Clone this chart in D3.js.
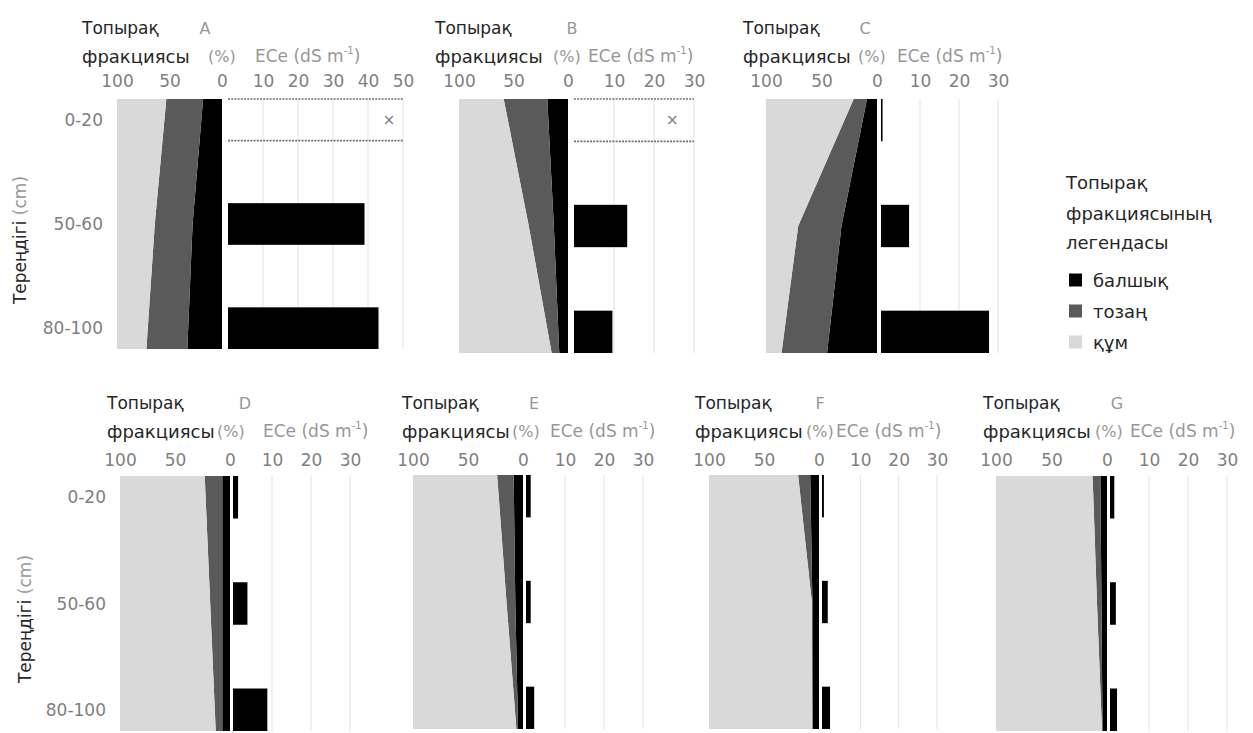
<!DOCTYPE html>
<html>
<head>
<meta charset="utf-8">
<script src="https://cdn.jsdelivr.net/npm/d3@7"></script>
<style>
body { margin: 0; background: #fff; }
text { font-family: "DejaVu Sans", sans-serif; }
</style>
</head>
<body>
<div id="chart"></div>
<script>
"use strict"

// data
var depths = ["0-20", "50-60", "80-100"];
var panelNames = ["A", "B", "C", "D", "E", "F", "G"];
var clay = [[18, 28, 33], [19, 13, 8], [9, 32, 45], [7, 7, 7], [8.5, 7, 4.5], [8, 6, 6], [6, 5, 4]];
var silt = [[35, 36, 39], [40, 23, 7], [12, 39, 41], [16, 11, 6], [15, 8, 1.5], [11, 0.5, 0], [7, 4, 0.5]];
var ece = [[null, 39, 43], [null, 13.3, 9.6], [0.4, 7.2, 27.7], [1.3, 3.7, 8.8], [1.2, 1.2, 2.1], [0.5, 1.5, 2.1], [1.1, 1.5, 1.8]];
var eceMax = [50, 30, 30, 30, 30, 30, 30];
var fracTicks = [100, 50, 0];
var fractionKeys = ["clay", "silt", "sand"];
var fractionLabels = ["балшық", "тозаң", "құм"];

// where each panel sits
var layout = [
    {fx: [117, 222], ex: [228, 403], y: [99, 349], row: 0, title: 82, letter: 205, pct: 208, eceX: 255, na: 0.92},
    {fx: [459, 568], ex: [574, 694], y: [99, 353], row: 0, title: 435, letter: 572, pct: 553, eceX: 588, na: 0.82},
    {fx: [766, 877], ex: [881, 998], y: [99, 353], row: 0, title: 743, letter: 865, pct: 858, eceX: 897},
    {fx: [120, 230], ex: [233, 350], y: [476, 731], row: 1, title: 107, letter: 245, pct: 217, eceX: 263},
    {fx: [413, 523], ex: [526, 643], y: [475, 729], row: 1, title: 402, letter: 534, pct: 512, eceX: 550},
    {fx: [709, 819], ex: [822, 937], y: [475, 729], row: 1, title: 695, letter: 820, pct: 806, eceX: 836},
    {fx: [996, 1107], ex: [1110, 1227], y: [476, 731], row: 1, title: 983, letter: 1117, pct: 1095, eceX: 1130}
];
var rowText = [{l1: 28, l2: 56, ticks: 81, ytitle: [20, 240]}, {l1: 403, l2: 431, ticks: 460, ytitle: [25, 619]}];

var colors = {clay: "#000000", silt: "#5a5a5a", sand: "#d9d9d9"};
var dark = "#262626", grey = "#7f7f7f", light = "#979797";

var svg = d3.select("#chart")
    .append("svg")
    .attr("width", 1253)
    .attr("height", 733);

panelNames.forEach(function(name, p) {
    var L = layout[p];
    var g = svg.append("g");

    var xf = d3.scaleLinear().domain([100, 0]).range(L.fx);
    var xe = d3.scaleLinear().domain([0, eceMax[p]]).range(L.ex);
    var yp = d3.scalePoint().domain(depths).range(L.y);
    var yb = d3.scaleBand().domain(depths).range(L.y).paddingInner(0.6).paddingOuter(0);
    var eTicks = xe.ticks(eceMax[p] / 10).filter(function(t) { return t > 0; });

    // gridlines of the ECe part
    g.selectAll(".grid")
        .data(eTicks)
        .enter().append("line")
        .attr("x1", function(t) { return xe(t); })
        .attr("x2", function(t) { return xe(t); })
        .attr("y1", L.y[0])
        .attr("y2", L.y[1])
        .attr("stroke", "#e3e3e3")
        .attr("stroke-width", 1);

    // stacked soil fractions
    var rows = depths.map(function(d, i) {
        return {depth: d, clay: clay[p][i], silt: silt[p][i], sand: 100 - clay[p][i] - silt[p][i]};
    });
    var stacked = d3.stack().keys(fractionKeys)(rows);
    var area = d3.area()
        .y(function(d) { return yp(d.data.depth); })
        .x0(function(d) { return xf(d[0]); })
        .x1(function(d) { return xf(d[1]); });
    g.selectAll(".frac")
        .data(stacked)
        .enter().append("path")
        .attr("d", area)
        .attr("fill", function(s) { return colors[s.key]; });

    // ECe bars
    var barData = depths.map(function(d, i) { return {depth: d, value: ece[p][i]}; });
    g.selectAll(".bar")
        .data(barData.filter(function(d) { return d.value !== null; }))
        .enter().append("rect")
        .attr("x", xe(0))
        .attr("y", function(d) { return yb(d.depth); })
        .attr("width", function(d) { return xe(d.value) - xe(0); })
        .attr("height", yb.bandwidth())
        .attr("fill", "#000");

    // missing values: dotted box with a cross
    barData.filter(function(d) { return d.value === null; }).forEach(function(d) {
        [yb(d.depth), yb(d.depth) + yb.bandwidth()].forEach(function(yy) {
            g.append("line")
                .attr("x1", xe(0)).attr("x2", xe(eceMax[p]))
                .attr("y1", yy).attr("y2", yy)
                .attr("stroke", "#6f6f6f")
                .attr("stroke-width", 1.6)
                .attr("stroke-dasharray", "2,1.2");
        });
        g.append("text")
            .attr("x", xe(eceMax[p] * L.na))
            .attr("y", yb(d.depth) + yb.bandwidth() / 2)
            .attr("dominant-baseline", "central")
            .attr("text-anchor", "middle")
            .attr("font-size", 15)
            .attr("fill", grey)
            .text("×");
    });

    // tick labels (the 0 is shared by both parts)
    var T = rowText[L.row];
    var fAxis = g.append("g")
        .attr("transform", "translate(0," + T.ticks + ")")
        .call(d3.axisTop(xf).tickValues(fracTicks).tickSize(0).tickPadding(0));
    var eAxis = g.append("g")
        .attr("transform", "translate(0," + T.ticks + ")")
        .call(d3.axisTop(xe).tickValues(eTicks).tickSize(0).tickPadding(0));
    [fAxis, eAxis].forEach(function(a) {
        a.select(".domain").remove();
        a.selectAll("text")
            .attr("y", 0)
            .attr("dy", null)
            .attr("dominant-baseline", "central")
            .attr("font-size", 17)
            .attr("font-family", "DejaVu Sans")
            .attr("fill", grey);
    });

    // panel headings
    g.append("text")
        .attr("x", L.title).attr("y", T.l1)
        .attr("dominant-baseline", "central")
        .attr("font-size", 17).attr("fill", dark)
        .text("Топырақ");
    g.append("text")
        .attr("x", L.title).attr("y", T.l2)
        .attr("dominant-baseline", "central")
        .attr("font-size", 18).attr("fill", dark)
        .text("фракциясы");
    g.append("text")
        .attr("x", L.letter).attr("y", T.l1)
        .attr("text-anchor", "middle")
        .attr("dominant-baseline", "central")
        .attr("font-size", 16).attr("fill", light)
        .text(name);
    g.append("text")
        .attr("x", L.pct).attr("y", T.l2)
        .attr("dominant-baseline", "central")
        .attr("font-size", 16).attr("fill", light)
        .text("(%)");
    var et = g.append("text")
        .attr("x", L.eceX).attr("y", T.l2)
        .attr("dominant-baseline", "central")
        .attr("font-size", 17).attr("fill", light);
    et.append("tspan").text("ECe (dS m");
    et.append("tspan").attr("font-size", 10).attr("dy", -6).text("-1");
    et.append("tspan").attr("dy", 6).text(")");

    // depth labels and axis title on the first panel of each row
    if (p === 0 || p === 3) {
        g.selectAll(".depth")
            .data(depths)
            .enter().append("text")
            .attr("x", L.fx[0] - 14)
            .attr("y", function(d) { return yb(d) + yb.bandwidth() / 2; })
            .attr("text-anchor", "end")
            .attr("dominant-baseline", "central")
            .attr("font-size", 17)
            .attr("fill", grey)
            .text(function(d) { return d; });
        var yt = g.append("text")
            .attr("transform", "translate(" + T.ytitle[0] + "," + T.ytitle[1] + ")rotate(-90)")
            .attr("text-anchor", "middle")
            .attr("dominant-baseline", "central")
            .attr("font-size", 17);
        yt.append("tspan").attr("fill", dark).text("Тереңдігі");
        yt.append("tspan").attr("fill", light).text(" (cm)");
    }
});

// legend
var legend = svg.append("g");
["Топырақ", "фракциясының", "легендасы"].forEach(function(t, i) {
    legend.append("text")
        .attr("x", 1066).attr("y", [182, 213, 242][i])
        .attr("dominant-baseline", "central")
        .attr("font-size", 18).attr("fill", dark)
        .text(t);
});
var ly = d3.scalePoint().domain(fractionKeys).range([280, 342]);
legend.selectAll(".sw")
    .data(fractionKeys)
    .enter().append("rect")
    .attr("x", 1069)
    .attr("y", function(k) { return ly(k) - 6.5; })
    .attr("width", 13).attr("height", 13)
    .attr("fill", function(k) { return colors[k]; });
legend.selectAll(".lab")
    .data(fractionKeys)
    .enter().append("text")
    .attr("x", 1093)
    .attr("y", function(k) { return ly(k); })
    .attr("dominant-baseline", "central")
    .attr("font-size", 18).attr("fill", dark)
    .text(function(k, i) { return fractionLabels[i]; });
</script>
</body>
</html>
